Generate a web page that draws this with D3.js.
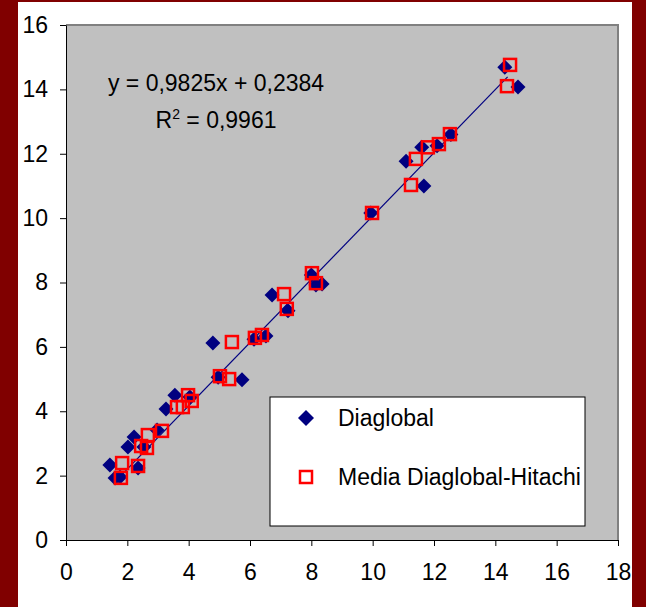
<!DOCTYPE html>
<html>
<head>
<meta charset="utf-8">
<script src="https://cdn.jsdelivr.net/npm/d3@7"></script>
<style>
  body { margin: 0; background: #800000; }
  svg text { font-family: "Liberation Sans", Arial, sans-serif; }
</style>
</head>
<body>
<div id="chart"></div>
<script>
// Diaglobal series (x, y)
const diaglobalX = [1.43, 1.60, 1.76, 2.35, 2.02, 2.22, 2.54, 2.97, 3.26, 3.55, 4.04,
  4.79, 4.96, 5.74, 6.13, 6.52, 6.72, 7.24, 8.0, 8.15, 8.35, 9.94, 11.09, 11.67, 11.6,
  12.1, 12.55, 14.31, 14.74];
const diaglobalY = [2.33, 1.93, 1.96, 2.24, 2.89, 3.20, 2.89, 3.42, 4.07, 4.50, 4.44,
  6.12, 5.06, 4.98, 6.24, 6.34, 7.61, 7.12, 8.23, 7.92, 7.95, 10.16, 11.77, 11.0, 12.2,
  12.25, 12.6, 14.69, 14.07];

// Media Diaglobal-Hitachi series (x, y)
const mediaX = [1.83, 1.79, 2.35, 2.67, 2.45, 2.64, 3.13, 3.62, 3.81, 3.98, 4.1,
  5.02, 5.32, 5.41, 6.16, 6.39, 7.11, 7.2, 8.02, 8.15, 9.98, 11.25, 11.41, 11.8,
  12.16, 12.52, 14.48, 14.38];
const mediaY = [2.39, 1.93, 2.3, 3.26, 2.92, 2.86, 3.39, 4.13, 4.13, 4.5, 4.32,
  5.09, 5.0, 6.15, 6.28, 6.37, 7.64, 7.18, 8.29, 7.98, 10.16, 11.03, 11.84, 12.2,
  12.3, 12.61, 14.76, 14.1];

// trend line
const slope = 0.9825;
const intercept = 0.2384;
const trendRange = [1.8, 14.4];

const xTicks = [0, 2, 4, 6, 8, 10, 12, 14, 16, 18];
const yTicks = [0, 2, 4, 6, 8, 10, 12, 14, 16];

const width = 646;
const height = 607;

const svg = d3
  .select("#chart")
  .append("svg")
  .attr("width", width)
  .attr("height", height);

// white panel inside the dark red frame
svg.append("rect")
  .attr("x", 18).attr("y", 2)
  .attr("width", 614).attr("height", height - 2)
  .attr("fill", "white");

const xScale = d3.scaleLinear().domain([0, 18]).range([66, 618]);
const yScale = d3.scaleLinear().domain([0, 16]).range([540, 25]);

// gray plot area
svg.append("rect")
  .attr("x", xScale(0)).attr("y", yScale(16))
  .attr("width", xScale(18) - xScale(0)).attr("height", yScale(0) - yScale(16))
  .attr("fill", "#c0c0c0");

// darker border on top and right of the plot area
svg.append("path")
  .attr("d", `M${xScale(0)},${yScale(16)} H${xScale(18)} V${yScale(0)}`)
  .attr("fill", "none")
  .attr("stroke", "#808080")
  .attr("stroke-width", 2);

// axes
const xAxis = d3.axisBottom(xScale).tickValues(xTicks).tickSize(6).tickPadding(18).tickSizeOuter(0);
const yAxis = d3.axisLeft(yScale).tickValues(yTicks).tickSize(6).tickPadding(12).tickSizeOuter(0);

svg.append("g")
  .attr("transform", `translate(0, ${yScale(0)})`)
  .call(xAxis)
  .call((g) => g.selectAll("text").attr("font-size", "23px").attr("fill", "black"))
  .call((g) => g.selectAll("line, path").attr("stroke", "black"));

svg.append("g")
  .attr("transform", `translate(${xScale(0)}, 0)`)
  .call(yAxis)
  .call((g) => g.selectAll("text").attr("font-size", "23px").attr("fill", "black"))
  .call((g) => g.selectAll("line, path").attr("stroke", "black"));

// trend line
svg.append("line")
  .attr("x1", xScale(trendRange[0]))
  .attr("y1", yScale(slope * trendRange[0] + intercept))
  .attr("x2", xScale(trendRange[1]))
  .attr("y2", yScale(slope * trendRange[1] + intercept))
  .attr("stroke", "#000080")
  .attr("stroke-width", 1.2);

const diamond = (r) => `M0,${-r} L${r},0 L0,${r} L${-r},0 Z`;

// Diaglobal diamonds
svg.append("g")
  .selectAll("path")
  .data(diaglobalX)
  .enter()
  .append("path")
  .attr("d", diamond(7.5))
  .attr("transform", (d, i) => `translate(${xScale(d)}, ${yScale(diaglobalY[i])})`)
  .attr("fill", "#000080");

// Media squares
svg.append("g")
  .selectAll("rect")
  .data(mediaX)
  .enter()
  .append("rect")
  .attr("x", (d) => xScale(d) - 6)
  .attr("y", (d, i) => yScale(mediaY[i]) - 6)
  .attr("width", 12)
  .attr("height", 12)
  .attr("fill", "none")
  .attr("stroke", "red")
  .attr("stroke-width", 2.5);

// equation label
const eq = svg.append("text")
  .attr("x", 216)
  .attr("text-anchor", "middle")
  .attr("font-size", "23px");
eq.append("tspan").attr("x", 216).attr("y", 91).text("y = 0,9825x + 0,2384");
const r2 = svg.append("text")
  .attr("x", 216).attr("y", 128)
  .attr("text-anchor", "middle")
  .attr("font-size", "23px");
r2.append("tspan").text("R");
r2.append("tspan").attr("font-size", "14px").attr("dy", -9).text("2");
r2.append("tspan").attr("dy", 9).text(" = 0,9961");

// legend
const legend = svg.append("g");
legend.append("rect")
  .attr("x", 270).attr("y", 397)
  .attr("width", 315).attr("height", 129)
  .attr("fill", "white")
  .attr("stroke", "black")
  .attr("stroke-width", 1);
legend.append("path")
  .attr("d", diamond(8))
  .attr("transform", "translate(306, 418)")
  .attr("fill", "#000080");
legend.append("rect")
  .attr("x", 300).attr("y", 471)
  .attr("width", 12).attr("height", 12)
  .attr("fill", "none")
  .attr("stroke", "red")
  .attr("stroke-width", 2.5);
legend.append("text")
  .attr("x", 338).attr("y", 426)
  .attr("font-size", "23px")
  .text("Diaglobal");
legend.append("text")
  .attr("x", 338).attr("y", 485)
  .attr("font-size", "23px")
  .text("Media Diaglobal-Hitachi");
</script>
</body>
</html>
